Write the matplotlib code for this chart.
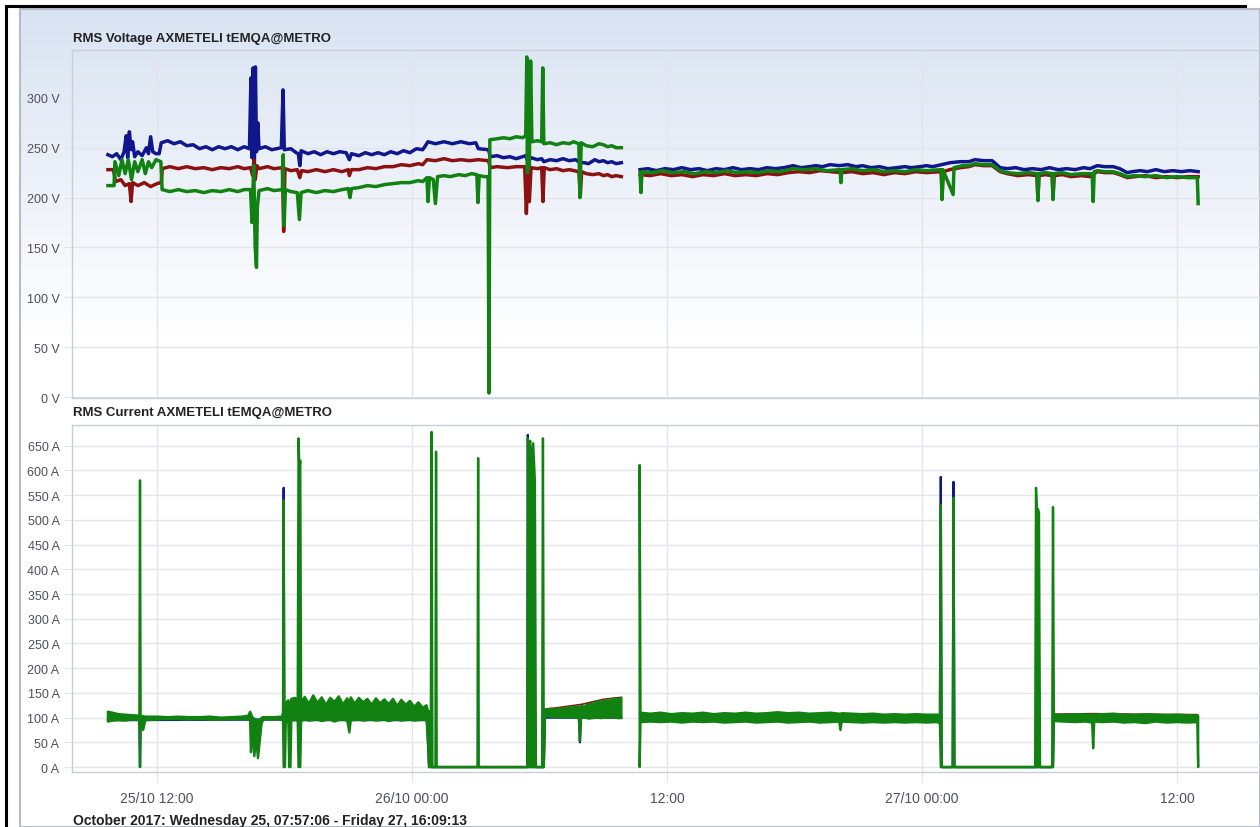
import numpy as np
import matplotlib
matplotlib.use("Agg")
import matplotlib.pyplot as plt
from matplotlib.lines import Line2D
from matplotlib.patches import Rectangle

plt.rcParams['font.family'] = ['Liberation Sans', 'DejaVu Sans']

nan = np.nan

# time axis: hours since 25/10/2017 00:00
tick_hours = [12, 24, 36, 48, 60]
tick_labels = ['25/10 12:00', '26/10 00:00', '12:00', '27/10 00:00', '12:00']
volt_ticks = [0, 50, 100, 150, 200, 250, 300]
amp_ticks = list(range(0, 651, 50))

# RMS voltage readings (hour, volts), nan marks the data gap
volt_blue = [
    (9.69, 243), (9.9, 241), (10.1, 244), (10.3, 238), (10.45, 246), (10.55, 262), (10.62, 240),
    (10.7, 266), (10.78, 248), (10.85, 256), (10.95, 241), (11.1, 246), (11.3, 242), (11.5, 250),
    (11.6, 244), (11.7, 261), (11.8, 246), (11.95, 244), (12.1, 244), (12.2, 255), (12.5, 257),
    (12.8, 254), (13.1, 256), (13.4, 252), (13.7, 253), (14.0, 249), (14.3, 251), (14.6, 248),
    (14.9, 251), (15.2, 249), (15.5, 251), (15.8, 248), (16.1, 251), (16.35, 249), (16.42, 320),
    (16.47, 240), (16.52, 330), (16.58, 228), (16.63, 331), (16.68, 246), (16.74, 275), (16.8, 249),
    (17.1, 251), (17.4, 248), (17.85, 250), (17.93, 308), (17.99, 248), (18.3, 249), (18.55, 245),
    (18.65, 244), (18.72, 232), (18.78, 247), (19.1, 244), (19.4, 246), (19.7, 243), (20.0, 246),
    (20.3, 244), (20.6, 246), (20.9, 245), (21.05, 238), (21.15, 244), (21.5, 242), (21.8, 245),
    (22.1, 243), (22.4, 245), (22.7, 243), (23.0, 246), (23.3, 244), (23.6, 247), (23.9, 245),
    (24.2, 249), (24.5, 248), (24.6, 251), (24.75, 256), (25.1, 254), (25.5, 256), (25.9, 254),
    (26.3, 256), (26.7, 254), (27.0, 255), (27.12, 249), (27.6, 248), (27.68, 241), (28.0, 242),
    (28.3, 240), (28.6, 241), (28.9, 239), (29.35, 242), (29.45, 236), (29.6, 240), (29.9, 238),
    (30.1, 239), (30.2, 236), (30.5, 238), (30.8, 237), (31.1, 239), (31.4, 237), (31.7, 238),
    (31.9, 235), (32.1, 235), (32.3, 234), (32.6, 238), (32.8, 236), (33.0, 237), (33.2, 235),
    (33.4, 236), (33.6, 234), (33.85, 235), (34.3, nan),
    (34.73, 228), (35.1, 229), (35.5, 227), (35.9, 229), (36.3, 228), (36.7, 230), (37.1, 228),
    (37.5, 229), (37.9, 227), (38.3, 229), (38.7, 228), (39.1, 230), (39.5, 228), (39.9, 229),
    (40.3, 228), (40.7, 230), (41.1, 229), (41.5, 230), (41.93, 232), (42.3, 230), (42.7, 231),
    (43.0, 232), (43.3, 231), (43.67, 233), (44.1, 232), (44.5, 233), (44.9, 231), (45.2, 232),
    (45.6, 230), (46.0, 231), (46.4, 229), (46.8, 230), (47.2, 231), (47.5, 230), (47.9, 231),
    (48.2, 232), (48.5, 231), (48.9, 233), (49.32, 235), (49.8, 236), (50.2, 236), (50.49, 238),
    (50.9, 237), (51.3, 237), (51.67, 230), (52.0, 229), (52.4, 230), (52.8, 228), (53.2, 229),
    (53.6, 228), (54.0, 230), (54.4, 228), (54.8, 229), (55.2, 228), (55.6, 230), (55.9, 229),
    (56.24, 232), (56.6, 231), (57.0, 231), (57.3, 229), (57.65, 225), (57.9, 226), (58.26, 227),
    (58.6, 226), (59.0, 228), (59.4, 226), (59.8, 227), (60.2, 226), (60.6, 227), (60.99, 226),
]

volt_red = [
    (9.69, 228), (9.95, 228), (10.05, 216), (10.3, 218), (10.5, 212), (10.7, 214), (10.78, 196),
    (10.85, 215), (11.1, 212), (11.4, 215), (11.7, 211), (12.0, 214), (12.2, 215), (12.25, 229),
    (12.6, 231), (13.0, 229), (13.4, 231), (13.8, 229), (14.2, 230), (14.6, 228), (15.0, 230),
    (15.4, 229), (15.8, 231), (16.1, 229), (16.4, 230), (16.5, 222), (16.56, 238), (16.62, 218),
    (16.7, 232), (16.8, 229), (17.2, 231), (17.5, 229), (17.9, 230), (17.96, 166), (18.02, 229),
    (18.3, 227), (18.6, 228), (18.72, 220), (18.8, 227), (19.1, 226), (19.5, 228), (19.9, 226),
    (20.3, 228), (20.7, 226), (21.0, 228), (21.05, 222), (21.15, 228), (21.5, 228), (21.9, 230),
    (22.3, 229), (22.7, 231), (23.1, 231), (23.5, 233), (23.9, 232), (24.3, 234), (24.5, 233),
    (24.7, 238), (25.1, 237), (25.5, 239), (25.9, 237), (26.3, 238), (26.7, 237), (27.1, 238),
    (27.6, 237), (27.68, 230), (28.0, 231), (28.5, 230), (28.9, 231), (29.3, 231), (29.38, 184),
    (29.45, 225), (29.52, 196), (29.6, 230), (29.9, 229), (30.1, 230), (30.16, 196), (30.22, 230),
    (30.5, 228), (30.8, 229), (31.1, 227), (31.4, 228), (31.85, 226), (31.92, 202), (31.98, 226),
    (32.2, 224), (32.5, 223), (32.8, 224), (33.0, 222), (33.2, 223), (33.4, 221), (33.6, 222),
    (33.85, 221), (34.3, nan),
    (34.73, 223), (35.2, 222), (35.7, 224), (36.2, 222), (36.7, 223), (37.2, 221), (37.7, 223),
    (38.2, 222), (38.7, 224), (39.2, 222), (39.7, 223), (40.2, 222), (40.7, 224), (41.2, 223),
    (41.7, 225), (42.2, 226), (42.7, 225), (43.2, 227), (43.7, 226), (44.2, 225), (44.7, 226),
    (45.2, 224), (45.7, 225), (46.2, 223), (46.7, 225), (47.2, 224), (47.7, 226), (48.2, 225),
    (48.9, 226), (48.94, 200), (49.0, 226), (49.3, 228), (49.8, 230), (50.2, 231), (50.49, 233),
    (50.9, 232), (51.3, 232), (51.67, 226), (52.0, 224), (52.5, 222), (53.0, 223), (53.4, 222),
    (53.45, 198), (53.5, 222), (53.8, 223), (54.12, 222), (54.16, 200), (54.22, 222), (54.6, 223),
    (55.0, 221), (55.5, 222), (55.9, 221), (56.24, 226), (56.6, 225), (57.0, 225), (57.3, 223),
    (57.65, 220), (58.0, 221), (58.5, 222), (59.0, 220), (59.5, 221), (60.0, 220), (60.5, 221),
    (60.99, 221),
]

volt_green = [
    (9.69, 212), (9.98, 212), (10.02, 236), (10.2, 222), (10.35, 238), (10.5, 224), (10.65, 238),
    (10.8, 218), (10.95, 236), (11.1, 226), (11.3, 238), (11.45, 224), (11.6, 236), (11.75, 230),
    (11.95, 238), (12.18, 236), (12.24, 208), (12.6, 206), (13.0, 208), (13.4, 206), (13.8, 207),
    (14.2, 205), (14.6, 207), (15.0, 206), (15.4, 208), (15.8, 206), (16.1, 208), (16.4, 208),
    (16.47, 175), (16.55, 232), (16.62, 150), (16.68, 130), (16.72, 190), (16.8, 207), (17.2, 209),
    (17.5, 207), (17.9, 208), (17.94, 243), (17.98, 172), (18.04, 208), (18.3, 206), (18.6, 205),
    (18.7, 178), (18.78, 205), (19.1, 207), (19.5, 205), (19.9, 207), (20.3, 206), (20.7, 208),
    (21.0, 209), (21.08, 200), (21.15, 209), (21.5, 210), (21.9, 212), (22.3, 211), (22.7, 213),
    (23.1, 214), (23.5, 215), (23.9, 215), (24.3, 217), (24.5, 216), (24.7, 220), (24.75, 196),
    (24.82, 220), (25.0, 218), (25.1, 194), (25.2, 221), (25.5, 222), (25.8, 221), (26.2, 223),
    (26.5, 222), (26.8, 224), (27.05, 223), (27.1, 195), (27.16, 222), (27.4, 221), (27.58, 221),
    (27.62, 4), (27.66, 258), (28.0, 259), (28.3, 260), (28.6, 259), (28.9, 261), (29.2, 260),
    (29.35, 262), (29.4, 341), (29.43, 225), (29.47, 325), (29.52, 232), (29.58, 337), (29.64, 256),
    (29.9, 257), (30.1, 256), (30.15, 330), (30.2, 254), (30.5, 255), (30.8, 253), (31.1, 255),
    (31.4, 254), (31.6, 256), (31.85, 254), (31.9, 200), (31.96, 255), (32.2, 252), (32.5, 251),
    (32.8, 254), (33.0, 253), (33.2, 251), (33.4, 252), (33.6, 250), (33.85, 250), (34.3, nan),
    (34.73, 225), (34.77, 205), (34.82, 226), (35.3, 225), (35.8, 227), (36.3, 225), (36.8, 226),
    (37.3, 224), (37.8, 226), (38.3, 225), (38.8, 227), (39.3, 225), (39.8, 226), (40.3, 225),
    (40.8, 227), (41.3, 226), (41.93, 229), (42.5, 228), (43.0, 229), (43.5, 227), (44.14, 228),
    (44.18, 215), (44.22, 228), (44.7, 229), (45.2, 227), (45.7, 228), (46.2, 226), (46.7, 227),
    (47.2, 226), (47.7, 228), (48.2, 227), (48.9, 228), (48.94, 198), (48.98, 228), (49.46, 203),
    (49.5, 230), (49.9, 232), (50.2, 232), (50.49, 234), (50.9, 233), (51.3, 233), (51.67, 227),
    (52.0, 225), (52.5, 224), (53.0, 225), (53.41, 224), (53.45, 197), (53.5, 224), (53.8, 225),
    (54.12, 224), (54.16, 198), (54.2, 224), (54.6, 225), (55.0, 223), (55.5, 224), (56.0, 224),
    (56.05, 196), (56.1, 226), (56.24, 227), (56.6, 226), (57.0, 226), (57.3, 224), (57.65, 221),
    (58.0, 222), (58.5, 221), (59.0, 222), (59.5, 220), (60.0, 221), (60.5, 220), (60.95, 220),
    (60.99, 194),
]

# RMS current, green phase read as (hour, low, high) envelope of the noisy trace
amp_green = [
    (9.69, 92, 112), (9.9, 94, 110), (10.2, 95, 107), (10.5, 94, 106), (10.8, 96, 105),
    (11.17, 95, 104), (11.2, 0, 580), (11.23, 92, 103), (11.35, 75, 103), (11.45, 95, 102),
    (12.0, 96, 102), (12.5, 97, 101), (13.0, 97, 102), (13.5, 96, 101), (14.0, 97, 101),
    (14.5, 96, 102), (15.0, 96, 100), (15.5, 97, 101), (16.0, 97, 102), (16.3, 96, 104),
    (16.38, 96, 112), (16.42, 30, 108), (16.5, 70, 100), (16.58, 22, 98), (16.66, 60, 96),
    (16.75, 18, 95), (16.83, 50, 92), (16.92, 88, 100), (17.0, 96, 101), (17.5, 97, 101),
    (17.88, 96, 102), (17.93, 96, 110), (17.96, 0, 540), (17.99, 0, 125), (18.02, 0, 120),
    (18.06, 90, 130), (18.18, 92, 135), (18.22, 0, 125), (18.28, 0, 128), (18.32, 94, 138),
    (18.5, 95, 140), (18.62, 94, 132), (18.66, 0, 665), (18.7, 0, 600), (18.74, 0, 620),
    (18.78, 93, 130), (18.95, 96, 142), (19.15, 94, 128), (19.35, 95, 145), (19.55, 96, 130),
    (19.75, 93, 141), (19.95, 95, 126), (20.15, 96, 140), (20.35, 92, 132), (20.55, 95, 143),
    (20.75, 96, 127), (20.95, 94, 139), (21.05, 70, 130), (21.12, 95, 141), (21.3, 95, 128),
    (21.5, 96, 140), (21.7, 94, 131), (21.9, 95, 138), (22.1, 96, 126), (22.3, 94, 139),
    (22.5, 95, 129), (22.7, 96, 137), (22.9, 93, 127), (23.1, 95, 138), (23.3, 96, 124),
    (23.5, 94, 136), (23.7, 95, 126), (23.9, 96, 134), (24.1, 94, 122), (24.3, 95, 131),
    (24.5, 96, 120), (24.68, 95, 125), (24.74, 60, 115), (24.8, 0, 112), (24.88, 0, 30),
    (24.92, 0, 678), (24.96, 0, 0), (25.1, 0, 0), (25.13, 0, 638), (25.16, 0, 0),
    (27.08, 0, 0), (27.11, 0, 625), (27.14, 0, 0), (29.42, 0, 0), (29.45, 0, 665),
    (29.5, 0, 640), (29.56, 0, 660), (29.62, 0, 600), (29.7, 0, 655), (29.78, 0, 580),
    (29.83, 0, 0), (30.12, 0, 0), (30.16, 0, 665), (30.2, 0, 0), (30.24, 103, 115),
    (30.5, 102, 118), (30.7, 101, 116), (30.9, 102, 119), (31.1, 100, 118), (31.3, 101, 121),
    (31.5, 100, 120), (31.7, 100, 123), (31.85, 99, 122), (31.9, 53, 118), (31.95, 100, 124),
    (32.1, 101, 122), (32.3, 98, 128), (32.5, 99, 127), (32.7, 100, 133), (32.9, 99, 131),
    (33.1, 100, 136), (33.3, 100, 134), (33.5, 100, 139), (33.7, 99, 137), (33.85, 99, 140),
    (34.3, nan, nan),
    (34.71, 0, 611), (34.75, 91, 110), (35.2, 92, 108), (35.7, 91, 110), (36.2, 92, 107),
    (36.7, 90, 109), (37.2, 92, 108), (37.7, 91, 110), (38.2, 92, 107), (38.7, 90, 109),
    (39.2, 91, 108), (39.7, 92, 110), (40.2, 90, 108), (40.7, 91, 109), (41.2, 92, 111),
    (41.7, 90, 109), (42.2, 91, 110), (42.7, 92, 108), (43.2, 90, 109), (43.7, 91, 110),
    (44.1, 92, 108), (44.16, 75, 108), (44.22, 92, 109), (44.7, 91, 108), (45.2, 90, 107),
    (45.7, 91, 108), (46.2, 90, 106), (46.7, 91, 107), (47.2, 90, 106), (47.7, 91, 107),
    (48.2, 90, 106), (48.7, 91, 106), (48.84, 88, 105), (48.88, 0, 530), (48.92, 0, 0),
    (49.44, 0, 0), (49.48, 0, 545), (49.52, 0, 0), (53.32, 0, 0), (53.36, 0, 565),
    (53.4, 0, 520), (53.45, 0, 522), (53.5, 0, 515), (53.55, 0, 0), (54.12, 0, 0),
    (54.16, 0, 526), (54.2, 93, 106), (54.7, 92, 105), (55.2, 91, 107), (55.7, 92, 106),
    (56.0, 90, 106), (56.05, 38, 104), (56.1, 92, 106), (56.5, 91, 107), (57.0, 92, 108),
    (57.5, 90, 106), (58.0, 91, 105), (58.5, 89, 107), (59.0, 92, 106), (59.5, 90, 105),
    (60.0, 91, 106), (60.5, 90, 105), (60.95, 91, 104), (60.99, 0, 104),
]

# RMS current, blue and red phases (mostly hidden behind green)
amp_blue = [
    (9.69, 95), (11.17, 95), (11.2, 0), (11.23, 95), (16.3, 96), (17.93, 96), (17.96, 565),
    (17.99, 95), (24.7, 95), (24.8, 0), (29.42, 0), (29.45, 672), (29.5, 0), (30.2, 0),
    (30.24, 100), (31.85, 100), (31.9, 50), (31.95, 100), (33.85, 100), (34.3, nan),
    (34.75, 95), (48.84, 94), (48.88, 587), (48.92, 0), (49.44, 0), (49.48, 577), (49.52, 0),
    (54.16, 0), (54.2, 95), (60.95, 95),
]
amp_red = [
    (30.24, 117), (31.0, 121), (32.0, 127), (33.0, 137), (33.85, 141), (34.3, nan),
    (54.2, 107), (56.0, 108), (58.0, 107), (60.95, 106),
]

BLUE = '#10168c'
RED = '#8c1212'
GREEN = '#118211'
GRID = '#e3e5ea'
SPINE = '#c9ced6'
LABEL = '#4f4f5e'

W, H = 1260, 828
fig = plt.figure(figsize=(W / 100, H / 100), dpi=100)
fig.patch.set_facecolor('white')


def fx(px):
    return px / W


def fy(py):
    return 1 - py / H


# panel background with blue-to-white gradient at the top
bg = fig.add_axes([fx(20), 0, 1 - fx(20), fy(10)], zorder=-10)
bg.set_axis_off()
frac = np.linspace(0, 1, 400)  # 0 = top of panel
grad = np.clip(frac / (330 / 818), 0, 1)
top_c = np.array([0.85, 0.89, 0.95])
img = top_c[None, :] * (1 - grad[:, None]) + np.ones(3)[None, :] * grad[:, None]
bg.imshow(img[:, None, :], extent=[0, 1, 0, 1], aspect='auto', origin='upper')
bg.set_xlim(0, 1)
bg.set_ylim(0, 1)
bg.add_patch(Rectangle((0, 0), 1, 1, fill=False, edgecolor='#b5bcc8', lw=1.5,
                       transform=bg.transAxes, clip_on=False))

# black outer frame
fig.add_artist(Line2D([fx(6), fx(6)], [0, fy(7)], color='black', lw=2.2))
fig.add_artist(Line2D([fx(6), fx(1245)], [fy(7), fy(7)], color='black', lw=2.2))

ax1 = fig.add_axes([fx(72), fy(399), 1 - fx(72), fy(51) - fy(399)])
ax2 = fig.add_axes([fx(72), fy(773), 1 - fx(72), fy(426) - fy(773)])

for ax in (ax1, ax2):
    ax.set_facecolor('none')
    ax.set_xlim(8.0, 63.9)
    ax.set_xticks(tick_hours)
    ax.grid(True, color=GRID, lw=1.0, zorder=0)
    ax.set_axisbelow(True)
    for side in ('left', 'top', 'bottom'):
        ax.spines[side].set_color(SPINE)
        ax.spines[side].set_linewidth(1.0)
    ax.spines['right'].set_visible(False)
    ax.tick_params(axis='y', length=6, color=GRID, labelsize=9, labelcolor=LABEL, pad=3)
    ax.tick_params(axis='x', length=7, color=GRID, labelsize=10, labelcolor=LABEL, pad=7)

# voltage panel
for series, col, z in ((volt_blue, BLUE, 3), (volt_red, RED, 3), (volt_green, GREEN, 4)):
    t, v = zip(*series)
    ax1.plot(t, v, color=col, lw=2.5, zorder=z)
ax1.set_ylim(-1, 348)
ax1.set_yticks(volt_ticks)
ax1.set_yticklabels([f'{v} V' for v in volt_ticks])
ax1.tick_params(axis='x', labelbottom=False, length=0)

# current panel
t, v = zip(*amp_blue)
ax2.plot(t, v, color=BLUE, lw=1.6, zorder=3)
t, v = zip(*amp_red)
ax2.plot(t, v, color=RED, lw=1.2, zorder=3)
t, lo, hi = zip(*amp_green)
ax2.fill_between(t, lo, hi, facecolor=GREEN, edgecolor=GREEN, lw=1.7, zorder=4)
ax2.set_ylim(-10, 692)
ax2.set_yticks(amp_ticks)
ax2.set_yticklabels([f'{v} A' for v in amp_ticks])
ax2.set_xticklabels(tick_labels)

fig.text(fx(73), fy(39), 'RMS Voltage AXMETELI tEMQA@METRO', fontsize=9.5,
         fontweight='bold', color='#222222', va='center', ha='left')
fig.text(fx(73), fy(413), 'RMS Current AXMETELI tEMQA@METRO', fontsize=9.5,
         fontweight='bold', color='#222222', va='center', ha='left')
fig.text(fx(73), fy(821), 'October 2017: Wednesday 25, 07:57:06 - Friday 27, 16:09:13',
         fontsize=10, fontweight='bold', color='#222222', va='center', ha='left')

fig.savefig('out.png', dpi=100)
